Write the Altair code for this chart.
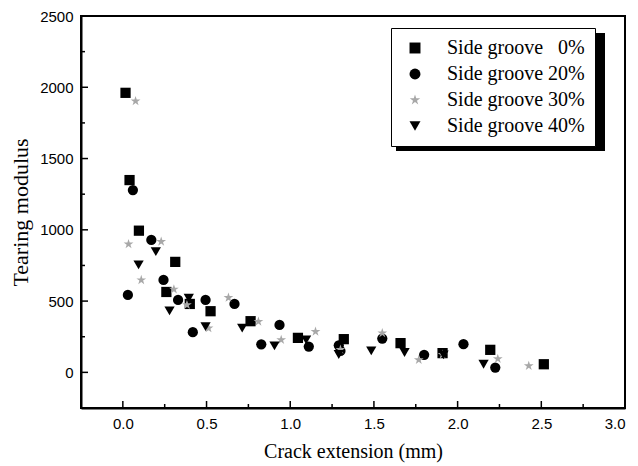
import altair as alt
import pandas as pd

series_names = ["Side groove \u20070%", "Side groove 20%", "Side groove 30%", "Side groove 40%"]

s0_x = [0.016, 0.04, 0.096, 0.26, 0.313, 0.40, 0.524, 0.763, 1.046, 1.32, 1.659, 1.91, 2.195, 2.515]
s0_y = [1961, 1349, 994, 564, 775, 480, 429, 359, 242, 233, 205, 135, 158, 57]

s20_x = [0.03, 0.06, 0.17, 0.243, 0.33, 0.418, 0.494, 0.667, 0.827, 0.936, 1.111, 1.29, 1.30, 1.55, 1.80, 2.035, 2.225]
s20_y = [543, 1279, 929, 648, 508, 282, 508, 480, 197, 333, 181, 190, 150, 237, 123, 198, 34]

s30_x = [0.034, 0.076, 0.11, 0.229, 0.305, 0.383, 0.512, 0.631, 0.81, 0.946, 1.151, 1.30, 1.55, 1.768, 1.91, 2.24, 2.425]
s30_y = [900, 1903, 648, 917, 583, 473, 310, 524, 356, 228, 286, 160, 275, 88, 125, 95, 46]

s40_x = [0.094, 0.197, 0.279, 0.394, 0.494, 0.713, 0.906, 1.095, 1.29, 1.484, 1.683, 1.916, 2.155]
s40_y = [754, 847, 431, 520, 321, 310, 186, 228, 125, 151, 139, 123, 57]

x_major = [0.0, 0.5, 1.0, 1.5, 2.0, 2.5, 3.0]
x_minor = [0.25, 0.75, 1.25, 1.75, 2.25, 2.75]
y_major = [0, 500, 1000, 1500, 2000, 2500]
y_minor = [250, 750, 1250, 1750, 2250]

rows = []
for name, xs, ys in zip(series_names, [s0_x, s20_x, s30_x, s40_x], [s0_y, s20_y, s30_y, s40_y]):
    for xv, yv in zip(xs, ys):
        rows.append({"series": name, "x": xv, "y": yv})
df = pd.DataFrame(rows)

W, H = 544, 392
xscale = alt.Scale(domain=[-0.25, 3.0], nice=False, zero=False)
yscale = alt.Scale(domain=[-250, 2500], nice=False, zero=False)
xaxis = alt.Axis(values=x_major, format=".1f", ticks=False, grid=False, title="Crack extension (mm)")
yaxis = alt.Axis(values=y_major, format="d", ticks=False, grid=False, title="Tearing modulus")

star = "M0,-1L0.2245,-0.309L0.951,-0.309L0.363,0.118L0.588,0.809L0,0.382L-0.588,0.809L-0.363,0.118L-0.951,-0.309L-0.2245,-0.309Z"

legend = alt.Legend(title=None, orient="none", legendX=310, legendY=12,
                    fillColor="white", strokeColor="black",
                    padding=10, rowPadding=6, labelOffset=22, symbolOffset=4,
                    symbolSize=120, labelFontSize=20,
                    labelFont="Liberation Serif", labelColor="black",
                    symbolStrokeWidth=0)

# drop shadow behind the legend box
shadow = alt.Chart(pd.DataFrame({"k": [0]})).mark_rect(color="black").encode(
    x=alt.value(315), x2=alt.value(524), y=alt.value(17), y2=alt.value(135))

points = alt.Chart(df).mark_point(filled=True, opacity=1, size=105).encode(
    x=alt.X("x:Q", scale=xscale, axis=xaxis),
    y=alt.Y("y:Q", scale=yscale, axis=yaxis),
    shape=alt.Shape("series:N", scale=alt.Scale(domain=series_names,
                    range=["square", "circle", star, "triangle-down"]), legend=legend),
    color=alt.Color("series:N", scale=alt.Scale(domain=series_names,
                    range=["black", "black", "#a8a8a8", "black"]), legend=legend),
)

def ticks_y(vals, length):
    return alt.Chart(pd.DataFrame({"v": vals})).mark_rule(color="black", strokeWidth=1.5).encode(
        y=alt.Y("v:Q", scale=yscale, axis=yaxis), x=alt.value(0), x2=alt.value(length))

def ticks_x(vals, length):
    return alt.Chart(pd.DataFrame({"v": vals})).mark_rule(color="black", strokeWidth=1.5).encode(
        x=alt.X("v:Q", scale=xscale, axis=xaxis), y=alt.value(H), y2=alt.value(H - length))

chart = alt.layer(
    points, shadow, ticks_y(y_major, 7), ticks_y(y_minor, 4), ticks_x(x_major, 7), ticks_x(x_minor, 4)
).properties(
    width=W, height=H,
    autosize=alt.AutoSizeParams(type="none"),
    padding={"left": 81, "top": 16, "right": 13, "bottom": 58},
    background="white",
).configure_view(
    stroke="black", strokeWidth=2
).configure_axis(
    domainColor="black", domainWidth=2,
    labelFont="Liberation Sans", labelFontSize=15, labelColor="black", labelPadding=8,
    titleFont="Liberation Serif", titleFontWeight="normal", titleColor="black",
).configure_axisX(titlePadding=10, titleFontSize=20).configure_axisY(titlePadding=7, titleFontSize=22)

chart.save("out.html", embed_options={"renderer": "svg", "actions": False})
